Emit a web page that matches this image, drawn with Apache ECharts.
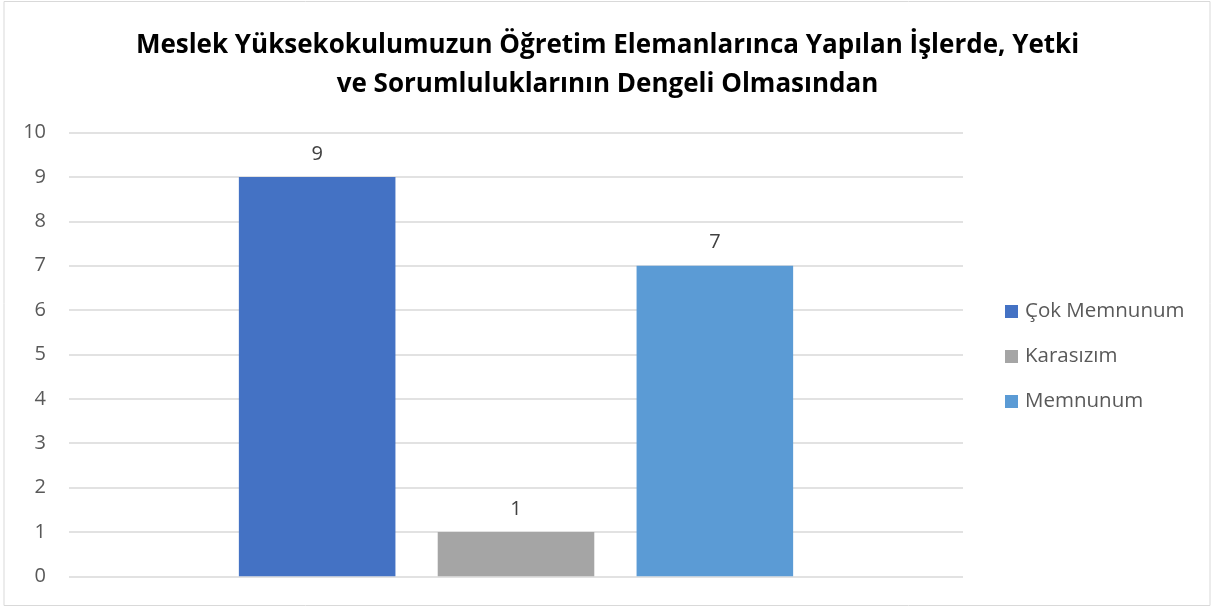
<!DOCTYPE html>
<html>
<head>
<meta charset="utf-8">
<script src="https://cdn.jsdelivr.net/npm/echarts@6/dist/echarts.min.js"></script>
<style>
  html, body { margin: 0; padding: 0; background: #fff; }
  #chart { width: 1215px; height: 608px; }
</style>
</head>
<body>
<div id="chart"></div>
<script>
const titleText = 'Meslek Yüksekokulumuzun Öğretim Elemanlarınca Yapılan İşlerde, Yetki\nve Sorumluluklarının Dengeli Olmasından'
const categories = ['']
const seriesNames = ['Çok Memnunum', 'Karasızım', 'Memnunum']
const seriesValues = [[9], [1], [7]]
const seriesColors = ['#4472c4', '#a5a5a5', '#5b9bd5']

const chart = echarts.init(document.getElementById('chart'))

const opts = {
  animation: false,
  textStyle: { fontFamily: 'Open Sans' },
  graphic: [{
    type: 'rect',
    shape: { x: 4, y: 1.5, width: 1206, height: 604 },
    style: { fill: 'none', stroke: '#d9d9d9', lineWidth: 1 },
    silent: true
  }],
  title: {
    text: titleText,
    left: 'center',
    top: 21,
    textStyle: {
      fontFamily: 'Open Sans',
      fontSize: 26,
      fontWeight: 'bold',
      color: '#000',
      lineHeight: 39
    }
  },
  legend: {
    orient: 'vertical',
    left: 1000,
    top: 296,
    itemWidth: 13,
    itemHeight: 13,
    itemGap: 24,
    icon: 'rect',
    data: seriesNames,
    textStyle: { fontSize: 20.5, lineHeight: 20, color: '#595959', padding: [0, 0, 0, 2] }
  },
  grid: {
    left: 69,
    right: 252,
    top: 132.7,
    bottom: 31.7
  },
  xAxis: {
    type: 'category',
    data: categories,
    axisLine: { show: false },
    axisTick: { show: false },
    axisLabel: { show: false }
  },
  yAxis: {
    type: 'value',
    min: 0,
    max: 10,
    interval: 1,
    axisLine: { show: false },
    axisTick: { show: false },
    axisLabel: { fontSize: 20, color: '#595959', margin: 23 },
    splitLine: { lineStyle: { color: '#d9d9d9', width: 1.5 } }
  },
  series: seriesNames.map((name, i) => ({
    name: name,
    type: 'bar',
    data: seriesValues[i],
    barGap: '27%',
    barCategoryGap: '38%',
    itemStyle: { color: seriesColors[i] },
    label: {
      show: true,
      position: 'top',
      distance: 13,
      fontSize: 20,
      color: '#404040'
    }
  }))
}

chart.setOption(opts)
</script>
</body>
</html>
